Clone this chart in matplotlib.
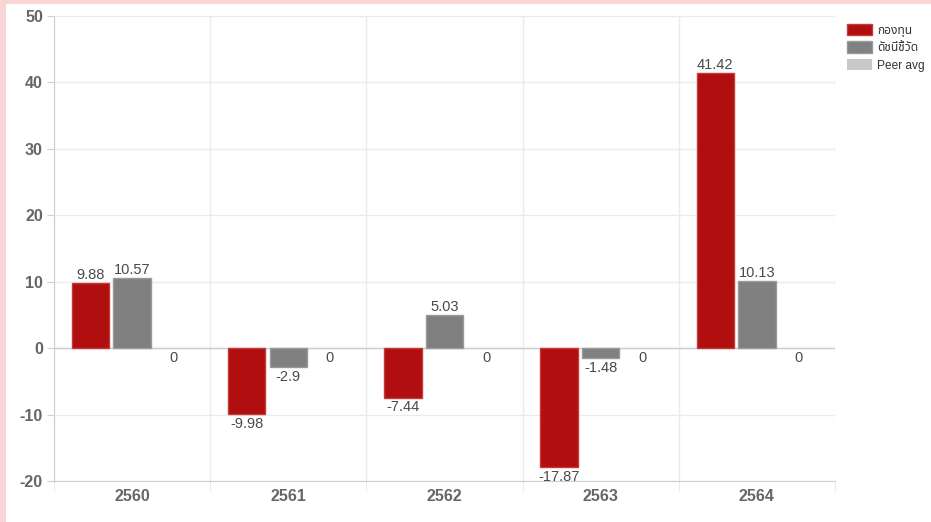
import numpy as np
import matplotlib.pyplot as plt
from matplotlib.patches import Rectangle

plt.rcParams['font.family'] = ['Liberation Sans', 'Noto Sans Thai', 'DejaVu Sans']
plt.rcParams['axes.unicode_minus'] = False

years = ['2560', '2561', '2562', '2563', '2564']
fund = [9.88, -9.98, -7.44, -17.87, 41.42]
index = [10.57, -2.9, 5.03, -1.48, 10.13]
peer = [0, 0, 0, 0, 0]
names = ['กองทุน', 'ดัชนีชี้วัด', 'Peer avg']
colors = ['#b10f0f', '#808080', '#c8c8c8']
edges = ['#c43a3a', '#9a9a9a', '#b5b5b5']

fig = plt.figure(figsize=(9.31, 5.22), dpi=100)
fig.patch.set_facecolor('#f9d5d5')
# white card behind the chart
fig.add_artist(Rectangle((6/931, 0), 1, 1 - 4/522, transform=fig.transFigure,
                         facecolor='white', edgecolor='none', zorder=0))

ax = fig.add_axes([54/931, 1 - 481/522, (835-54)/931, (481-16)/522])
ax.set_facecolor('none')

x = np.arange(len(years))
slot = 0.8 / 3
width = slot * 0.9
for k, vals in enumerate([fund, index, peer]):
    pos = x - 0.4 + slot * (k + 0.5)
    lw = [1 if v != 0 else 0 for v in vals]
    ax.bar(pos, vals, width, color=colors[k], edgecolor=edges[k], linewidth=lw,
           label=names[k], zorder=3)
    for p, v in zip(pos, vals):
        lbl = f'{v:g}'
        if v > 0:
            ax.text(p, v + 0.15, lbl, ha='center', va='bottom', fontsize=10.5,
                    color='#4a4a4a', zorder=4)
        else:
            ax.text(p, v - 0.4, lbl, ha='center', va='top', fontsize=10.5,
                    color='#4a4a4a', zorder=4)

ax.set_xlim(-0.5, len(years) - 0.5)
ax.set_ylim(-20, 50)
ax.set_yticks(range(-20, 51, 10))
ax.set_xticks(x)
ax.set_xticklabels(years)
ax.set_xticks(np.arange(-0.5, len(years)), minor=True)

for lab in ax.get_xticklabels() + ax.get_yticklabels():
    lab.set_fontweight('bold')
    lab.set_color('#666666')
    lab.set_fontsize(11.5)

ax.tick_params(axis='x', which='major', length=0, pad=6)
ax.tick_params(axis='x', which='minor', length=7, color='#e6e6e6')
ax.tick_params(axis='y', length=5, color='#d0d0d0', pad=3)
ax.grid(axis='y', color='#ebebeb', linewidth=1, zorder=0)
ax.grid(axis='x', which='minor', color='#ebebeb', linewidth=1, zorder=0)
ax.axhline(0, color='#cccccc', linewidth=1, zorder=2)

for side in ['top', 'right']:
    ax.spines[side].set_visible(False)
for side in ['left', 'bottom']:
    ax.spines[side].set_color('#cfcfcf')

leg = ax.legend(loc='upper left', bbox_to_anchor=(1.005, 1.0), frameon=False,
                fontsize=8.6, handlelength=2.1, handleheight=1.1,
                handletextpad=0.45, labelspacing=0.4, borderaxespad=0.25)
for t in leg.get_texts():
    t.set_color('#333333')

fig.savefig('out.png', dpi=100)
